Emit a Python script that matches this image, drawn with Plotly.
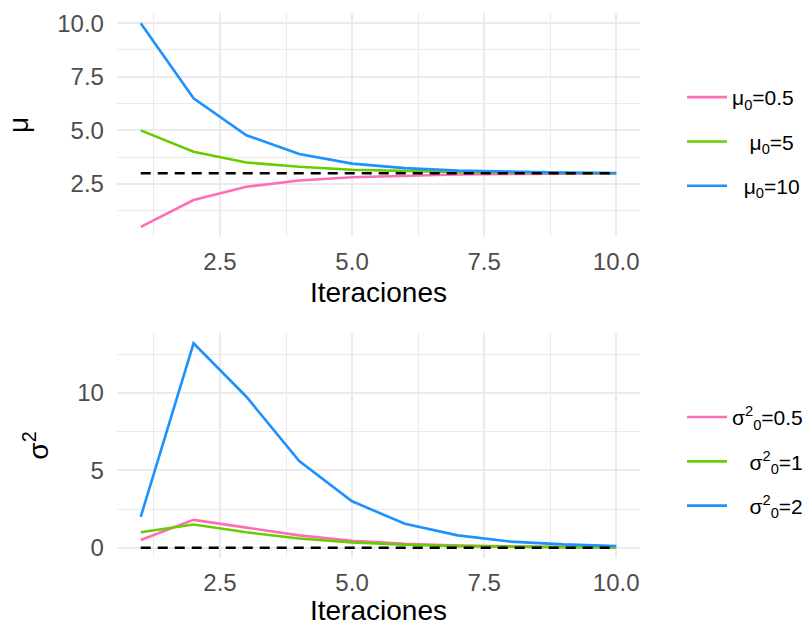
import plotly.graph_objects as go

# Iteration index
iteraciones = [1, 2, 3, 4, 5, 6, 7, 8, 9, 10]

# Estimates of mu for three starting values
mu_05 = [0.5, 1.75, 2.37, 2.66, 2.81, 2.89, 2.94, 2.97, 2.98, 2.99]
mu_5 = [5.0, 4.0, 3.5, 3.3, 3.16, 3.09, 3.05, 3.03, 3.01, 3.0]
mu_10 = [10.0, 6.5, 4.77, 3.9, 3.45, 3.24, 3.12, 3.06, 3.03, 3.01]
mu_true = 3.0

# Estimates of sigma^2 for three starting values
s2_05 = [0.5, 1.8, 1.3, 0.8, 0.45, 0.25, 0.14, 0.08, 0.05, 0.03]
s2_1 = [1.0, 1.5, 1.0, 0.6, 0.35, 0.2, 0.11, 0.06, 0.04, 0.02]
s2_2 = [2.0, 13.2, 9.75, 5.6, 3.0, 1.55, 0.8, 0.4, 0.22, 0.12]
s2_true = 0.0

mu_labels = ["μ<sub>0</sub>=0.5", "\u2007\u2008μ<sub>0</sub>=5", "\u2007μ<sub>0</sub>=10"]
s2_labels = ["σ<sup>2</sup><sub>0</sub>=0.5", "\u2007\u2008σ<sup>2</sup><sub>0</sub>=1", "\u2007\u2008σ<sup>2</sup><sub>0</sub>=2"]

colors = ["#FF6EB4", "#66CD00", "#1E90FF"]
FONT = "Liberation Sans, Arial, sans-serif"

fig = go.Figure()

for ys, name, col in zip([mu_05, mu_5, mu_10], mu_labels, colors):
    fig.add_trace(go.Scatter(x=iteraciones, y=ys, mode="lines", name=name,
                             line=dict(color=col, width=2.6),
                             xaxis="x", yaxis="y", legend="legend",
                             legendgroup=name))
fig.add_trace(go.Scatter(x=[iteraciones[0], iteraciones[-1]], y=[mu_true, mu_true],
                         mode="lines", line=dict(color="black", width=2.6, dash="10px,7px"),
                         showlegend=False, xaxis="x", yaxis="y", hoverinfo="skip"))

for ys, name, col in zip([s2_05, s2_1, s2_2], s2_labels, colors):
    fig.add_trace(go.Scatter(x=iteraciones, y=ys, mode="lines", name=name,
                             line=dict(color=col, width=2.6),
                             xaxis="x2", yaxis="y2", legend="legend2",
                             legendgroup=name))
fig.add_trace(go.Scatter(x=[iteraciones[0], iteraciones[-1]], y=[s2_true, s2_true],
                         mode="lines", line=dict(color="black", width=2.6, dash="10px,7px"),
                         showlegend=False, xaxis="x2", yaxis="y2", hoverinfo="skip"))

grid = "#EBEBEB"
tickfont = dict(family=FONT, size=24, color="#4D4D4D")
titlefont = dict(family=FONT, size=28, color="black")

def xaxis(anchor):
    return dict(domain=[0.1444, 0.7901], anchor=anchor, range=[0.55, 10.45],
                tickvals=[2.5, 5.0, 7.5, 10.0], ticktext=["2.5", "5.0", "7.5", "10.0"],
                showgrid=True, gridcolor=grid, gridwidth=2,
                minor=dict(tickvals=[1.25, 3.75, 6.25, 8.75], showgrid=True,
                           gridcolor=grid, gridwidth=1),
                zeroline=False, showline=False, ticks="", tickfont=tickfont,
                ticklabelstandoff=8,
                title=dict(text="Iteraciones", font=titlefont, standoff=8),
                automargin=False)

def yaxis(anchor, domain, rng, vals, texts, minor_vals, title):
    return dict(domain=domain, anchor=anchor, range=rng,
                tickvals=vals, ticktext=texts,
                showgrid=True, gridcolor=grid, gridwidth=2,
                minor=dict(tickvals=minor_vals, showgrid=True,
                           gridcolor=grid, gridwidth=1),
                zeroline=False, showline=False, ticks="", tickfont=tickfont,
                ticklabelstandoff=12,
                title=dict(text=title, font=titlefont, standoff=20),
                automargin=False)

legend_font = dict(family=FONT, size=21, color="black")

fig.update_layout(
    width=810, height=626,
    margin=dict(l=0, r=0, t=0, b=0, autoexpand=False),
    paper_bgcolor="white", plot_bgcolor="white",
    font=dict(family=FONT),
    xaxis=xaxis("y"),
    yaxis=yaxis("x", [0.6214, 0.9792], [0.025, 10.475],
                [2.5, 5.0, 7.5, 10.0], ["2.5", "5.0", "7.5", "10.0"],
                [1.25, 3.75, 6.25, 8.75], "μ"),
    xaxis2=xaxis("y2"),
    yaxis2=yaxis("x2", [0.1086, 0.468], [-0.66, 13.86],
                 [0, 5, 10], ["0", "5", "10"], [2.5, 7.5, 12.5],
                 "σ<sup>2</sup>"),
    legend=dict(x=0.842, y=0.877, xanchor="left", yanchor="top",
                font=legend_font, itemwidth=40, tracegroupgap=14,
                bgcolor="rgba(0,0,0,0)"),
    legend2=dict(x=0.842, y=0.366, xanchor="left", yanchor="top",
                 font=legend_font, itemwidth=40, tracegroupgap=14,
                 bgcolor="rgba(0,0,0,0)"),
    showlegend=True,
)

fig.write_html("out.html")
